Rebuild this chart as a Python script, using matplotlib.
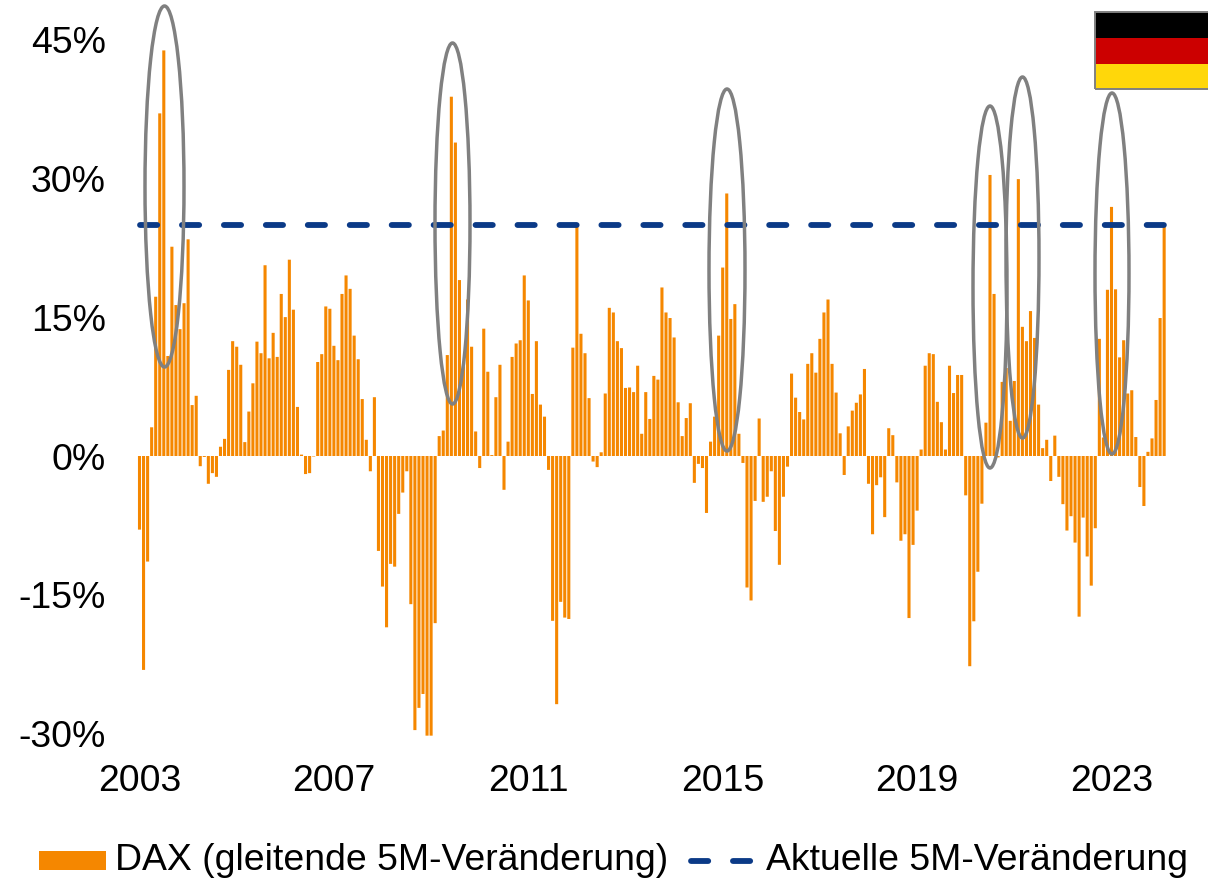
import matplotlib
matplotlib.use('Agg')
import matplotlib.pyplot as plt
from matplotlib.lines import Line2D
from matplotlib.patches import Ellipse, Patch, Rectangle
import numpy as np

dax_5m = [
    -7.95, -23.1, -11.4, 3.1, 17.2, 37.0, 43.8, 10.8, 22.6, 16.3, 13.7, 16.5, 23.4, 5.5, 6.5,
    -1.1, -0.1, -3.0, -1.85, -2.25, 1.0, 1.85, 9.3, 12.4, 11.8, 9.85, 1.5, 4.8, 7.85, 12.35,
    11.1, 20.6, 10.55, 13.3, 10.7, 17.5, 15.0, 21.2, 15.8, 5.3, 0.15, -1.95, -1.85, -0.05,
    10.15, 11.0, 16.15, 15.9, 11.9, 10.35, 17.5, 19.5, 18.05, 13.0, 10.45, 6.15, 1.75, -1.65,
    6.35, -10.25, -14.1, -18.5, -11.65, -11.95, -6.25,
    -3.95, -1.65, -16.0, -29.6, -27.2, -25.7, -30.2, -30.2, -18.05, 2.15, 2.75, 10.9, 38.8,
    33.85, 19.0, 9.7, 16.9, 11.8, 2.65, -1.3, 13.75, 9.1, 0.1, 6.35, 9.85, -3.65, 1.55, 10.7,
    12.15, 12.5, 19.5, 16.8, 6.7, 12.4, 5.55, 4.25, -1.5, -17.8, -26.8, -15.75, -17.45, -17.6,
    11.7, 24.9, 13.2, 11.1, 6.25, -0.6, -1.2, 0.4, 6.75, 16.0, 15.5, 12.4, 11.65, 7.35, 7.4,
    6.9, 9.75, 2.4, 6.9, 4.0, 8.65, 8.25,
    18.2, 15.5, 14.9, 12.8, 5.8, 2.15, 4.1, 5.7, -2.9, -0.85, -1.3, -6.15, 1.55, 4.25, 13.0,
    20.35, 28.35, 14.8, 16.4, 2.4, -0.75, -14.2, -15.6, -4.85, 4.05, -4.95, -4.4, -1.65, -8.1,
    -11.75, -4.4, -1.15, 8.9, 6.3, 4.75, 3.95, 9.95, 11.1, 9.0, 12.65, 15.5, 16.9, 9.95, 6.85,
    2.45, -2.05, 3.2, 4.9, 5.75, 6.65, 9.4, -3.0, -8.45, -3.15, -2.3, -6.6, 3.0, 2.25, -2.85,
    -9.15, -8.45, -17.5, -9.6, -5.9,
    0.7, 9.75, 11.1, 11.0, 5.85, 3.65, 0.7, 9.75, 6.8, 8.75, 8.75, -4.25, -22.7, -17.85, -12.5,
    -5.15, 3.6, 30.35, 17.5, -0.15, 8.0, 9.5, 3.8, 8.1, 29.9, 13.95, 12.4, 15.65, 12.75, 5.55,
    0.85, 1.75, -2.7, 2.2, -2.25, -5.2, -8.05, -6.5, -9.35, -17.35, -6.65, -10.85, -14.0, -7.8,
    12.65, 2.0, 17.95, 26.9, 18.0, 10.65, 12.5, 6.75, 7.1, 2.05, -3.35, -5.4, 0.45, 1.9, 6.05,
    14.9, 24.9,
]
aktuell = 24.9
year_labels = ['2003', '2007', '2011', '2015', '2019', '2023']
y_ticks = [-30, -15, 0, 15, 30, 45]
bar_label = 'DAX (gleitende 5M-Veränderung)'
line_label = 'Aktuelle 5M-Veränderung'

W, H = 1208, 881
plt.rcParams['font.family'] = ['Liberation Sans', 'DejaVu Sans']
plt.rcParams['lines.scale_dashes'] = False
orange = '#F58700'
navy = '#0B3A87'
grey = '#808080'
fs = 26.9
line_dash = (12.4, 17.8)

fig = plt.figure(figsize=(W / 100, H / 100), dpi=100)
# 4.05 px per month, 9.26 px per percent, month 0 at x=139.5, zero line at y=456
x_left = 139.5 - 4.05 * 3
x_right = 1180
ax = fig.add_axes([x_left / W, (H - 456 - 30.2 * 9.26) / H, (x_right - x_left) / W, 75.2 * 9.26 / H])
n = len(dax_5m)
months = np.arange(n)
bars = ax.bar(months, dax_5m, width=0.76, color=orange, linewidth=0)
for b in bars:
    b.set_snap(False)
ax.plot(months, [aktuell] * n, color=navy, lw=4.2, dashes=line_dash, dash_capstyle='round')
ax.set_xlim(-3, (x_right - 139.5) / 4.05)
ax.set_ylim(-30.2, 45)

ax.set_xticks(months[::48])
ax.set_xticklabels(year_labels, fontsize=fs)
ax.set_yticks(y_ticks)
ax.set_yticklabels([f'{v}%' for v in y_ticks], fontsize=fs)
ax.tick_params(length=0)
ax.tick_params(axis='x', pad=20.5)
ax.tick_params(axis='y', pad=15.5)
for s in ax.spines.values():
    s.set_visible(False)

# flag and ellipses sit on the figure in pixels, y counted from the top
def px(x, y):
    return x / W, 1 - y / H
flag_x, flag_w = 1095, 116
for top, h, c in [(12, 26, '#000000'), (38, 26, '#CC0000'), (64, 25, '#FFD70A')]:
    fig.add_artist(Rectangle(px(flag_x, top + h), flag_w / W, h / H, transform=fig.transFigure,
                             facecolor=c, edgecolor='none'))
fig.add_artist(Rectangle(px(flag_x, 89), flag_w / W, 77 / H, transform=fig.transFigure,
                         facecolor='none', edgecolor=grey, linewidth=1.4))
for x0, x1, y0, y1 in [(145, 184, 6, 367), (435, 470, 43, 404), (709, 745, 89, 451),
                       (973, 1007, 106, 468), (1006, 1039, 77, 438), (1095, 1129, 93, 454)]:
    fig.add_artist(Ellipse(px((x0 + x1) / 2, (y0 + y1) / 2), (x1 - x0) / W, (y1 - y0) / H,
                           transform=fig.transFigure, facecolor='none', edgecolor=grey, linewidth=2.5))

handles = [Patch(facecolor=orange, label=bar_label),
           Line2D([0], [0], color=navy, lw=4.2, dashes=line_dash, dash_capstyle='round', label=line_label)]
leg = fig.legend(handles=handles, ncol=2, loc='lower left', bbox_to_anchor=(39 / W, 1 - 878 / H), frameon=False,
                 fontsize=fs, handlelength=1.8, handleheight=0.5, handletextpad=0.23, columnspacing=0.6,
                 borderpad=0, borderaxespad=0)
# legend keys sit a little lower than matplotlib puts them
patch_key, line_key = leg.legend_handles
patch_key.set_y(patch_key.get_y() - 2.2)
patch_key.set_height(13.7)
line_key.set_ydata(np.asarray(line_key.get_ydata()) - 2.2)

fig.savefig('out.png', dpi=100)
